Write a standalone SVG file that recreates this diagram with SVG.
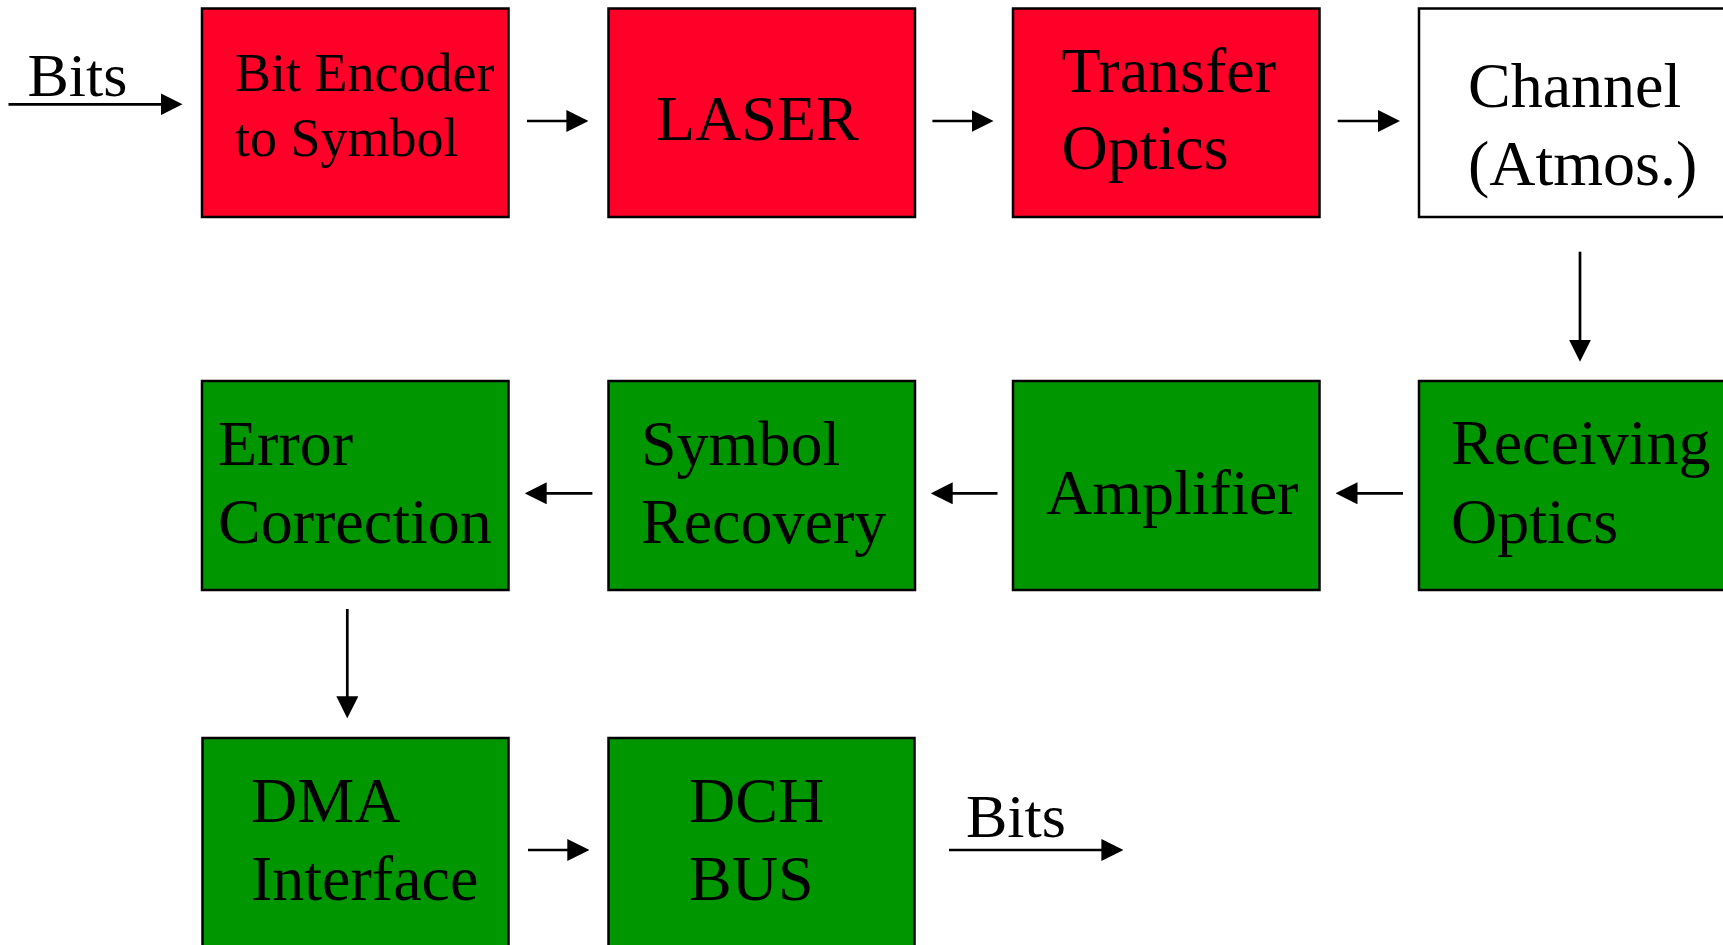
<svg xmlns="http://www.w3.org/2000/svg" width="1723" height="945" viewBox="0 0 1723 945">
<style>
.box{stroke:#000;stroke-width:2.5}
.red{fill:#FF0029}
.green{fill:#009600}
.white{fill:#FFFFFF}
text{font-family:"Liberation Serif","Times New Roman",serif;fill:#000}
.t64{font-size:64px}
.t54{font-size:54px}
.t62{font-size:62px}
.conn line{stroke:#000;stroke-width:2.7;fill:none;marker-end:url(#ah)}
</style>
<defs>
<marker id="ah" markerUnits="userSpaceOnUse" markerWidth="22" markerHeight="22" refX="17" refY="11" orient="auto">
<path d="M0,0 L22,11 L0,22 Z" fill="#000"/>
</marker>
</defs>
<rect width="1723" height="945" fill="#fff"/>

<g id="node-bit-encoder">
<rect class="box red" x="202" y="8.5" width="306.5" height="208.5"/>
<text class="t54" x="235" y="91">Bit Encoder</text>
<text class="t54" x="235" y="156">to Symbol</text>
</g>
<g id="node-laser">
<rect class="box red" x="608.5" y="8.5" width="306.5" height="208.5"/>
<text class="t64" x="656" y="140">LASER</text>
</g>
<g id="node-transfer-optics">
<rect class="box red" x="1013" y="8.5" width="306.5" height="208.5"/>
<text class="t64" x="1061.5" y="91.5">Transfer</text>
<text class="t64" x="1061.5" y="168.5">Optics</text>
</g>
<g id="node-channel">
<rect class="box white" x="1419" y="8.5" width="320" height="208.5"/>
<text class="t64" x="1468" y="107">Channel</text>
<text class="t64" x="1468" y="185">(Atmos.)</text>
</g>

<g id="node-error-correction">
<rect class="box green" x="202" y="381" width="306.5" height="209"/>
<text class="t64" x="218" y="465">Error</text>
<text class="t64" x="218" y="542.5">Correction</text>
</g>
<g id="node-symbol-recovery">
<rect class="box green" x="608.5" y="381" width="306.5" height="209"/>
<text class="t64" x="641" y="465">Symbol</text>
<text class="t64" x="641" y="542.5">Recovery</text>
</g>
<g id="node-amplifier">
<rect class="box green" x="1013" y="381" width="306.5" height="209"/>
<text class="t64" x="1046" y="514">Amplifier</text>
</g>
<g id="node-receiving-optics">
<rect class="box green" x="1419" y="381" width="320" height="209"/>
<text class="t64" x="1451" y="464">Receiving</text>
<text class="t64" x="1451" y="542.5">Optics</text>
</g>

<g id="node-dma-interface">
<rect class="box green" x="202.5" y="738" width="306" height="230"/>
<text class="t64" x="251" y="821.5">DMA</text>
<text class="t64" x="251" y="900">Interface</text>
</g>
<g id="node-dch-bus">
<rect class="box green" x="608.5" y="738" width="306" height="230"/>
<text class="t64" x="689" y="821.5">DCH</text>
<text class="t64" x="689" y="900">BUS</text>
</g>

<g id="labels">
<text class="t62" x="27.5" y="95.5">Bits</text>
<text class="t62" x="966" y="837">Bits</text>
</g>

<g id="connectors" class="conn">
<line x1="8.5" y1="104.3" x2="177.5" y2="104.3"/>
<line x1="527" y1="121" x2="583.4" y2="121"/>
<line x1="932.4" y1="121" x2="988.6" y2="121"/>
<line x1="1337.7" y1="121" x2="1395" y2="121"/>
<line x1="1580" y1="251.7" x2="1580" y2="356.7"/>
<line x1="1403" y1="493.3" x2="1340.5" y2="493.3"/>
<line x1="997.5" y1="493.3" x2="935.7" y2="493.3"/>
<line x1="592.4" y1="493.3" x2="529.7" y2="493.3"/>
<line x1="347.3" y1="609" x2="347.3" y2="713.3"/>
<line x1="528" y1="850" x2="584.3" y2="850"/>
<line x1="949" y1="850" x2="1118.4" y2="850"/>
</g>
</svg>
